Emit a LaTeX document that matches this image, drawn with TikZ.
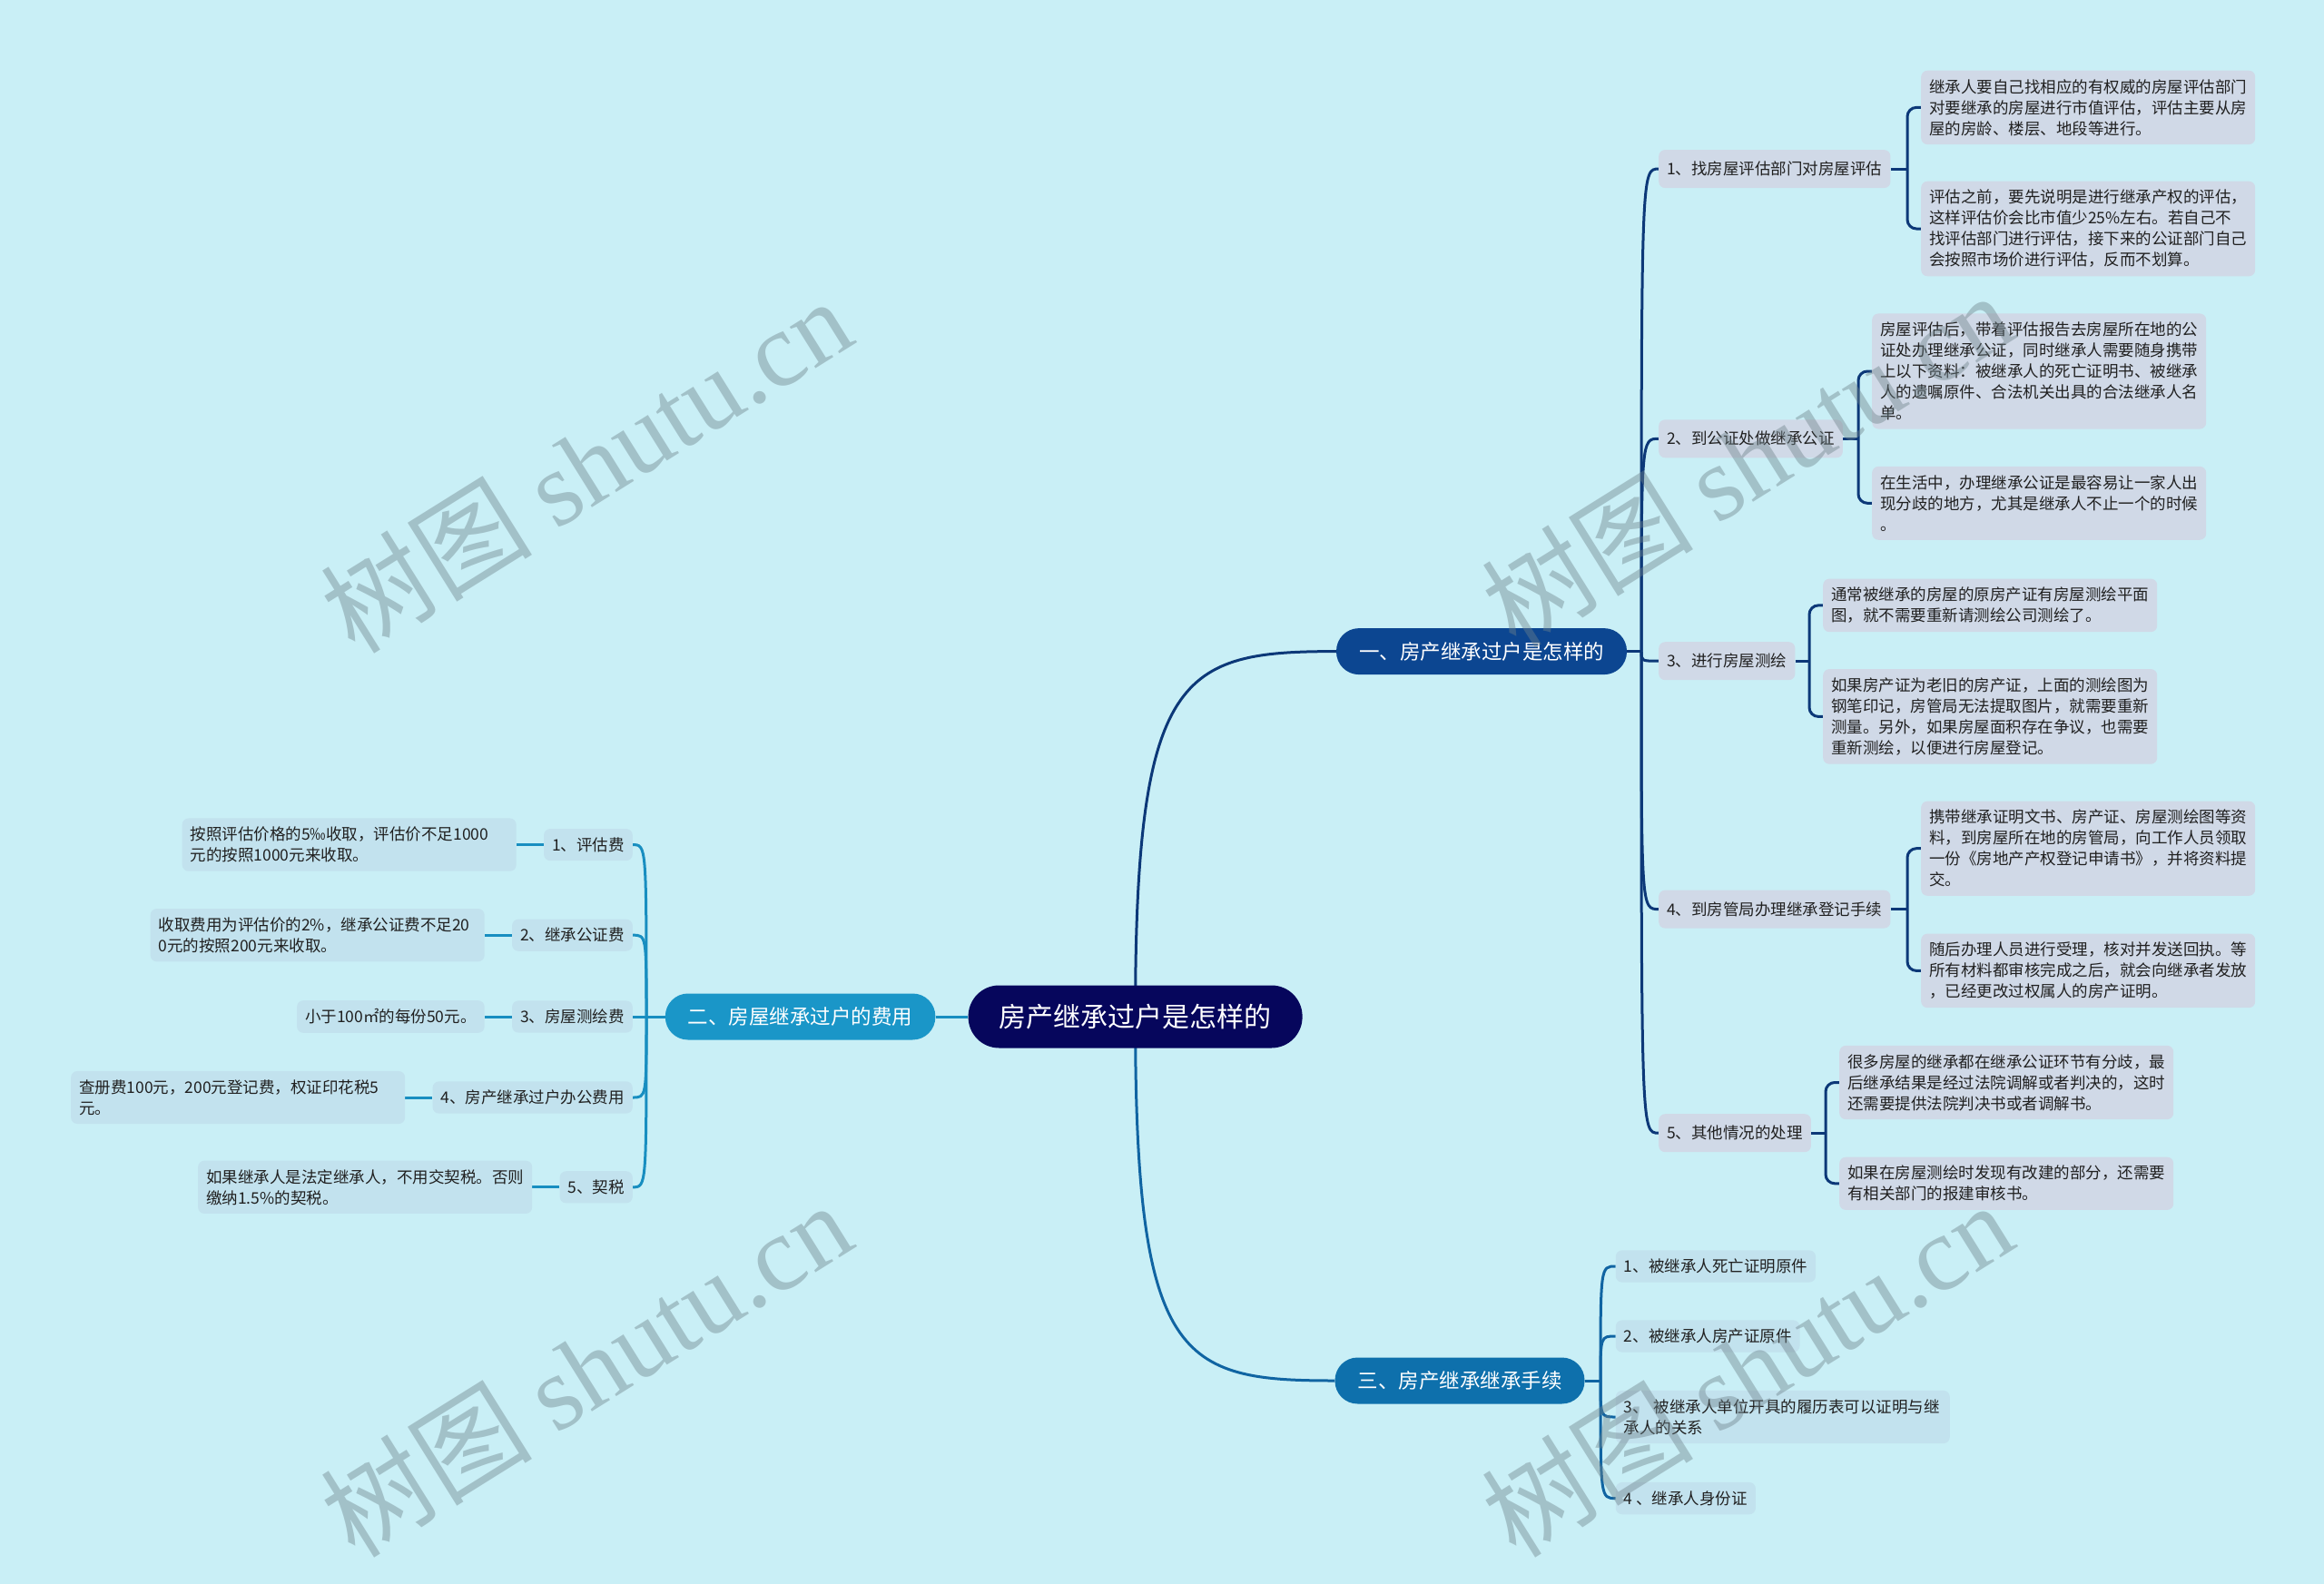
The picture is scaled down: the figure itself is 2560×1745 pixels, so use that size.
\documentclass[tikz,border=0pt]{standalone}
\usepackage{fontspec}
\setmainfont{Noto Sans CJK SC}
\newfontfamily\wmserif{Liberation Serif}
\usetikzlibrary{positioning}
\definecolor{bgcyan}{RGB}{201,239,246}
\definecolor{rootnavy}{RGB}{6,6,92}
\definecolor{onecol}{RGB}{12,70,145}
\definecolor{twocol}{RGB}{26,150,200}
\definecolor{threecol}{RGB}{14,112,172}
\definecolor{onefill}{RGB}{208,217,231}
\definecolor{palefill}{RGB}{194,226,238}
\definecolor{oneline}{RGB}{12,56,120}
\definecolor{twoline}{RGB}{24,142,192}
\definecolor{threeline}{RGB}{16,100,162}
\definecolor{inkgray}{RGB}{32,32,32}
\definecolor{wmgray}{RGB}{110,130,138}
\pgfdeclarelayer{bg}
\pgfsetlayers{bg,main}

\begin{document}
\begin{tikzpicture}[x=1pt,y=-1pt,
  rootn/.style={rectangle,rounded corners=34pt,fill=rootnavy,text=white,inner xsep=34pt,minimum height=69pt,font=\fontsize{30}{36}\selectfont},
  topn/.style={rectangle,rounded corners=25pt,text=white,inner xsep=25pt,minimum height=51pt,font=\fontsize{22.5}{27}\selectfont},
  subn/.style={rectangle,rounded corners=7pt,text=inkgray,inner xsep=9pt,inner ysep=9.5pt,font=\fontsize{17.5}{23}\selectfont},
  leafn/.style={subn,text width=350pt,align=left},
  wm/.style={rotate=32,text=wmgray,opacity=0.42,font=\fontsize{117}{117}\selectfont},
  lone/.style={draw=oneline,line width=3pt},
  ltwo/.style={draw=twoline,line width=3pt},
  lthree/.style={draw=threeline,line width=3pt}]
\useasboundingbox (0,0) rectangle (2560,1745);
\begin{pgfonlayer}{bg}
\fill[bgcyan] (0,0) rectangle (2560,1745);
\end{pgfonlayer}
% 中心与三个分支
\node[rootn] (root) at (1250.6,1120) {房产继承过户是怎样的};
\node[topn,fill=onecol] (one) at (1632,717.6) {一、房产继承过户是怎样的};
\node[topn,fill=twocol] (two) at (881.6,1120) {二、房屋继承过户的费用};
\node[topn,fill=threecol] (three) at (1608,1521) {三、房产继承继承手续};
% 一
\node[subn,fill=onefill,anchor=west,minimum height=42pt] (one1) at (1827,186.1) {1、找房屋评估部门对房屋评估};
\node[subn,fill=onefill,anchor=west,minimum height=42pt] (one2) at (1827,483.3) {2、到公证处做继承公证};
\node[subn,fill=onefill,anchor=west,minimum height=42pt] (one3) at (1827,728.2) {3、进行房屋测绘};
\node[subn,fill=onefill,anchor=west,minimum height=42pt] (one4) at (1827,1001.6) {4、到房管局办理继承登记手续};
\node[subn,fill=onefill,anchor=west,minimum height=42pt] (one5) at (1827,1248.2) {5、其他情况的处理};
\node[leafn,fill=onefill,anchor=west] (one1a) at (2116,118.4) {继承人要自己找相应的有权威的房屋评估部门\\对要继承的房屋进行市值评估，评估主要从房\\屋的房龄、楼层、地段等进行。};
\node[leafn,fill=onefill,anchor=west] (one1b) at (2116,252) {评估之前，要先说明是进行继承产权的评估，\\这样评估价会比市值少25\%左右。若自己不\\找评估部门进行评估，接下来的公证部门自己\\会按照市场价进行评估，反而不划算。};
\node[leafn,fill=onefill,anchor=west] (one2a) at (2062,409) {房屋评估后，带着评估报告去房屋所在地的公\\证处办理继承公证，同时继承人需要随身携带\\上以下资料：被继承人的死亡证明书、被继承\\人的遗嘱原件、合法机关出具的合法继承人名\\单。};
\node[leafn,fill=onefill,anchor=west] (one2b) at (2062,554.3) {在生活中，办理继承公证是最容易让一家人出\\现分歧的地方，尤其是继承人不止一个的时候\\。};
\node[leafn,fill=onefill,anchor=west] (one3a) at (2008,666.9) {通常被继承的房屋的原房产证有房屋测绘平面\\图，就不需要重新请测绘公司测绘了。};
\node[leafn,fill=onefill,anchor=west] (one3b) at (2008,789.4) {如果房产证为老旧的房产证，上面的测绘图为\\钢笔印记，房管局无法提取图片，就需要重新\\测量。另外，如果房屋面积存在争议，也需要\\重新测绘，以便进行房屋登记。};
\node[leafn,fill=onefill,anchor=west] (one4a) at (2116,934.7) {携带继承证明文书、房产证、房屋测绘图等资\\料，到房屋所在地的房管局，向工作人员领取\\一份《房地产产权登记申请书》，并将资料提\\交。};
\node[leafn,fill=onefill,anchor=west] (one4b) at (2116,1069.4) {随后办理人员进行受理，核对并发送回执。等\\所有材料都审核完成之后，就会向继承者发放\\，已经更改过权属人的房产证明。};
\node[leafn,fill=onefill,anchor=west] (one5a) at (2026,1192.5) {很多房屋的继承都在继承公证环节有分歧，最\\后继承结果是经过法院调解或者判决的，这时\\还需要提供法院判决书或者调解书。};
\node[leafn,fill=onefill,anchor=west] (one5b) at (2026,1303.8) {如果在房屋测绘时发现有改建的部分，还需要\\有相关部门的报建审核书。};
% 二
\node[subn,fill=palefill,anchor=east] (two1) at (697,930.6) {1、评估费};
\node[subn,fill=palefill,anchor=east] (two2) at (697,1030.2) {2、继承公证费};
\node[subn,fill=palefill,anchor=east] (two3) at (697,1120) {3、房屋测绘费};
\node[subn,fill=palefill,anchor=east] (two4) at (697,1209) {4、房产继承过户办公费用};
\node[subn,fill=palefill,anchor=east] (two5) at (697,1307.8) {5、契税};
\node[leafn,fill=palefill,left=30pt of two1] (two1a) {按照评估价格的5‰收取，评估价不足1000\\元的按照1000元来收取。};
\node[leafn,fill=palefill,left=30pt of two2] (two2a) {收取费用为评估价的2\%，继承公证费不足20\\0元的按照200元来收取。};
\node[subn,fill=palefill,left=30pt of two3] (two3a) {小于100㎡的每份50元。};
\node[leafn,fill=palefill,left=30pt of two4] (two4a) {查册费100元，200元登记费，权证印花税5\\元。};
\node[leafn,fill=palefill,left=30pt of two5] (two5a) {如果继承人是法定继承人，不用交契税。否则\\缴纳1.5\%的契税。};
% 三
\node[subn,fill=palefill,anchor=west] (three1) at (1779.6,1395) {1、被继承人死亡证明原件};
\node[subn,fill=palefill,anchor=west] (three2) at (1779.6,1472) {2、被继承人房产证原件};
\node[leafn,fill=palefill,anchor=west] (three3) at (1779.6,1561) {3、\ 被继承人单位开具的履历表可以证明与继\\承人的关系};
\node[subn,fill=palefill,anchor=west] (three4) at (1779.6,1650.6) {4 、继承人身份证};
% 分叉点
\coordinate (oj) at (1808,717.6);
\coordinate (tj) at (712,1120);
\coordinate (hj) at (1763,1521);
\coordinate (j1) at (2101,186.1);
\coordinate (j2) at (2047,483.3);
\coordinate (j3) at (1993,728.2);
\coordinate (j4) at (2101,1001.6);
\coordinate (j5) at (2011,1248.2);
\begin{pgfonlayer}{bg}
\draw[lone] (root.center) .. controls +(0,-380) and +(-171,0) .. (one.west);
\draw[lthree] (root.center) .. controls +(0,380) and +(-171,0) .. (three.west);
\draw[ltwo] (root.west) -- (two.east);
\draw[lone] (one.east) -- (oj);
\draw[ltwo] (two.west) -- (tj);
\draw[lthree] (three.east) -- (hj);
\foreach \k in {1,...,5} {
  \draw[lone] (oj) .. controls (oj |- one\k.west) .. (one\k.west);
  \draw[lone] (one\k.east) -- (j\k);
  \draw[lone,rounded corners=10pt] (one\k a.west) -| (j\k) |- (one\k b.west);
  \draw[ltwo] (tj) .. controls (tj |- two\k.east) .. (two\k.east);
  \draw[ltwo] (two\k a.east) -- (two\k.west);
}
\foreach \k in {1,...,4}
  \draw[lthree] (hj) .. controls (hj |- three\k.west) .. (three\k.west);
\end{pgfonlayer}
% 水印
\node[wm] (wm1) at (645,512) {树图 {\wmserif shutu.cn}};
\node[wm] (wm2) at (1924,506) {树图 {\wmserif shutu.cn}};
\node[wm] (wm3) at (645,1508) {树图 {\wmserif shutu.cn}};
\node[wm] (wm4) at (1924,1508) {树图 {\wmserif shutu.cn}};
\end{tikzpicture}
\end{document}
